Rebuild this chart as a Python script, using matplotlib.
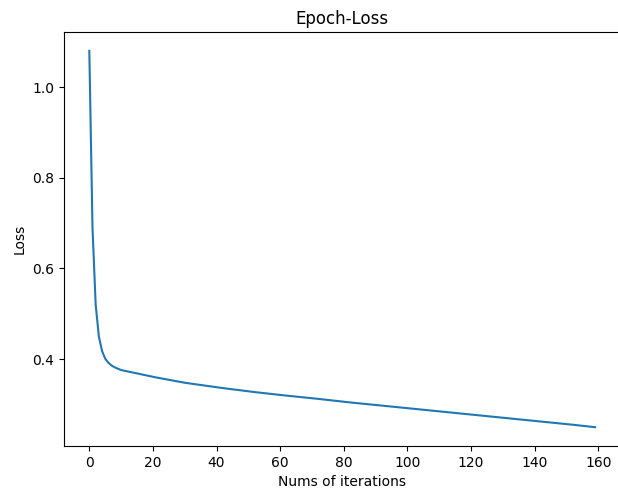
import matplotlib
matplotlib.use("Agg")
import matplotlib.pyplot as plt

# loss per epoch
loss = [
    1.080, 0.690, 0.520, 0.450, 0.418, 0.401, 0.392, 0.386, 0.382, 0.379,
    0.376, 0.3745, 0.373, 0.3715, 0.370, 0.3685, 0.367, 0.3655, 0.364, 0.3625,
    0.361, 0.3597, 0.3584, 0.3571, 0.3558, 0.3545, 0.3532, 0.3519, 0.3506, 0.3493,
    0.348, 0.347, 0.346, 0.345, 0.344, 0.343, 0.342, 0.341, 0.340, 0.339,
    0.338, 0.3371, 0.3362, 0.3353, 0.3344, 0.3335, 0.3326, 0.3317, 0.3308, 0.3299,
    0.329, 0.3282, 0.3274, 0.3266, 0.3258, 0.325, 0.3242, 0.3234, 0.3226, 0.3218,
    0.321, 0.3203, 0.3196, 0.3189, 0.3182, 0.3175, 0.3168, 0.3161, 0.3154, 0.3147,
    0.314, 0.3132, 0.3124, 0.3116, 0.3108, 0.310, 0.3092, 0.3084, 0.3076, 0.3068,
    0.306, 0.3053, 0.3046, 0.3039, 0.3032, 0.3025, 0.3018, 0.3011, 0.3004, 0.2997,
    0.299, 0.2983, 0.2976, 0.2969, 0.2962, 0.2955, 0.2948, 0.2941, 0.2934, 0.2927,
    0.292, 0.2913, 0.2906, 0.2899, 0.2892, 0.2885, 0.2878, 0.2871, 0.2864, 0.2857,
    0.285, 0.2843, 0.2836, 0.2829, 0.2822, 0.2815, 0.2808, 0.2801, 0.2794, 0.2787,
    0.278, 0.2773, 0.2766, 0.2759, 0.2752, 0.2745, 0.2738, 0.2731, 0.2724, 0.2717,
    0.271, 0.2703, 0.2696, 0.2689, 0.2682, 0.2675, 0.2668, 0.2661, 0.2654, 0.2647,
    0.264, 0.2633, 0.2626, 0.2619, 0.2612, 0.2605, 0.2598, 0.2591, 0.2584, 0.2577,
    0.257, 0.2562, 0.2554, 0.2546, 0.2538, 0.253, 0.2522, 0.2514, 0.2507, 0.250,
]
epochs = list(range(len(loss)))

fig = plt.figure(figsize=(6.18, 4.97), dpi=100)
# the reference is cropped just before the right spine
ax = fig.add_axes([0.1036, 0.1026, 0.9003, 0.833])
ax.plot(epochs, loss)
ax.set_title('Epoch-Loss')
ax.set_xlabel('Nums of iterations')
ax.set_ylabel('Loss')

fig.savefig('out.png', dpi=100)
